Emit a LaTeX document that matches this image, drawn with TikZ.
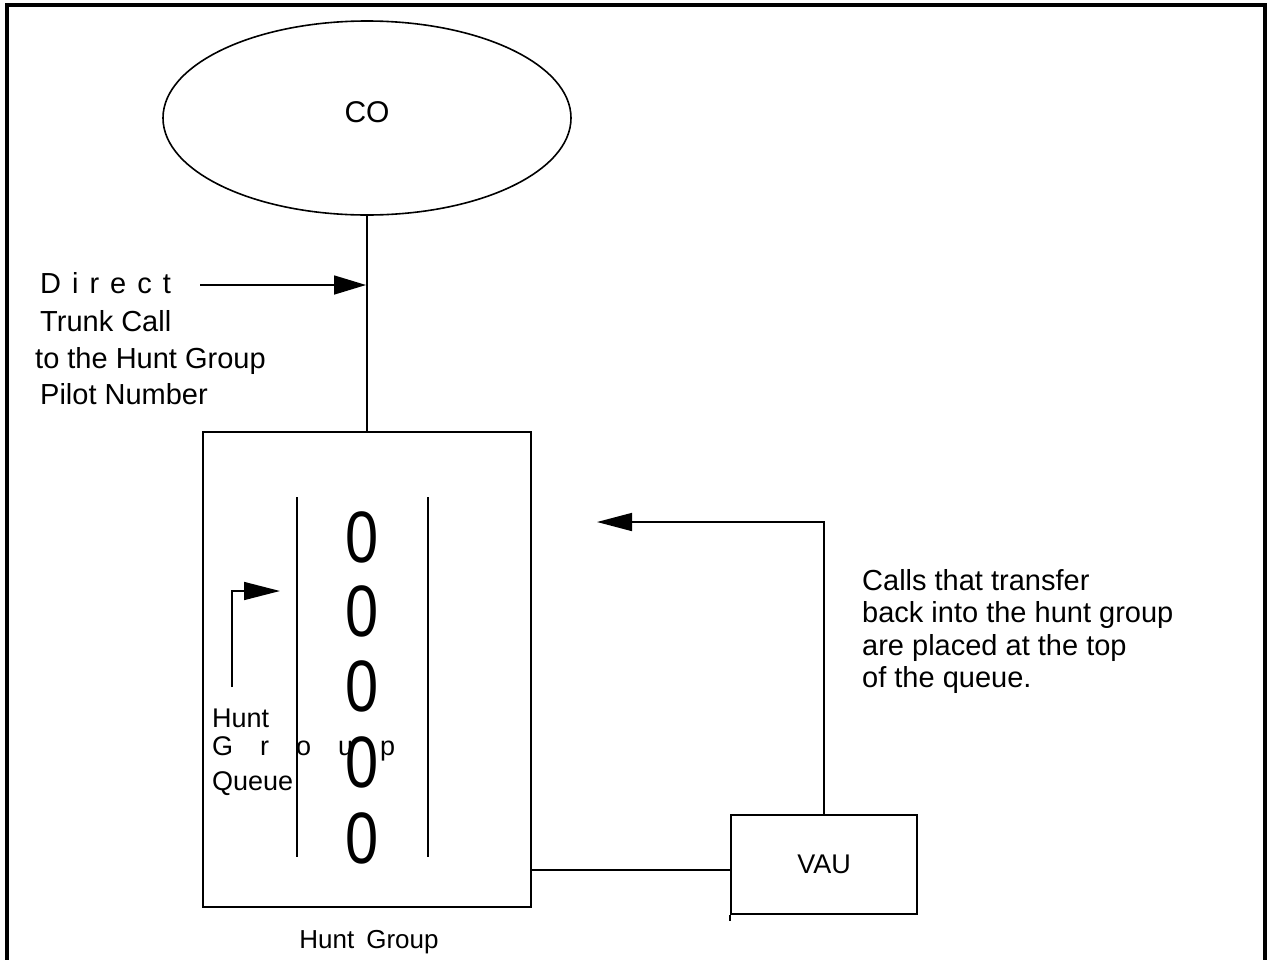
\documentclass[tikz,border=0pt]{standalone}
\usepackage{fontspec}
\setmainfont{Liberation Sans}
\usetikzlibrary{shapes.geometric,arrows.meta}
\begin{document}
\begin{tikzpicture}[x=1pt,y=-1pt,
  thinline/.style={line width=1.6pt},
  boxline/.style={line width=2.8pt},
  bigtip/.style={-{Triangle[length=32pt,width=19pt]}},
  txt/.style={inner sep=0pt,font=\fontsize{29}{35}\selectfont},
  small/.style={inner sep=0pt,font=\fontsize{26}{30}\selectfont},
  zero/.style={inner sep=0pt,xscale=0.85,yscale=1.04,font=\fontsize{70}{70}\selectfont}]
\useasboundingbox (0,0) rectangle (1271,959);
% frame
\draw[line width=4.5pt] (7,961) -- (7,5) -- (1265,5) -- (1265,961);
% CO
\node[draw,thinline,ellipse,minimum width=408pt,minimum height=194pt,inner sep=0pt,
  font=\fontsize{30}{30}\selectfont] (co) at (367,118) {};
\node[inner sep=0pt,font=\fontsize{30}{30}\selectfont] (cotxt) at (367,112) {CO};
% Hunt group box
\node[draw,boxline,minimum width=328pt,minimum height=475pt,inner sep=0pt] (hg) at (367,669.5) {};
\draw[thinline] (co.south) -- (co.south |- hg.north);
% Direct trunk call text
\node[txt,anchor=base west] (t1) at (40,293) {{\spaceskip=11pt D i r e c t}};
\node[txt,anchor=base west] (t2) at (40,331) {Trunk Call};
\node[txt,anchor=base west] (t3) at (35,368) {to the Hunt Group};
\node[txt,anchor=base west] (t4) at (40,404) {Pilot Number};
\coordinate (dstart) at (200,285);
\coordinate (dtip) at (366,285);
\draw[thinline,bigtip] (dstart) -- (dtip);
% queue
\coordinate (ql1) at (297,497);
\coordinate (ql2) at (297,857);
\coordinate (qr1) at (428,497);
\coordinate (qr2) at (428,857);
\draw[line width=2.5pt] (ql1) -- (ql2);
\draw[line width=2.5pt] (qr1) -- (qr2);
\node[zero] (z1) at (362,537) {0};
\node[zero] (z2) at (362,611) {0};
\node[zero] (z3) at (362,686) {0};
\node[zero] (z4) at (362,762) {0};
\node[zero] (z5) at (362,838) {0};
% queue label and arrow
\node[small,font=\fontsize{27}{30}\selectfont,anchor=base west] (q1) at (212,727) {Hunt};
\node[small,font=\fontsize{27}{30}\selectfont,anchor=base west] (q2) at (212,755) {{\spaceskip=27pt G r o u p}};
\node[small,font=\fontsize{27}{30}\selectfont,anchor=base west] (q3) at (212,790) {Queue};
\coordinate (qa1) at (232,687);
\coordinate (qa2) at (232,591);
\coordinate (qa3) at (280,591);
\draw[thinline,-{Triangle[length=36pt,width=18pt]}] (qa1) -- (qa2) -- (qa3);
% Hunt Group label
\node[small,font=\fontsize{26}{30}\selectfont,anchor=base] (hgl) at (369,948) {Hunt\hspace{12pt}Group};
% VAU
\node[draw,boxline,minimum width=186pt,minimum height=99pt,inner sep=0pt,
  font=\fontsize{27}{30}\selectfont] (vau) at (824,864.5) {VAU};
\draw[line width=2pt] (vau.south west) -- ++(0,6);
\draw[thinline] (hg.east |- 0,870) -- (vau.west |- 0,870);
\coordinate (rt) at (824,522);
\coordinate (rtip) at (597,522);
\draw[thinline,-{Triangle[length=35pt,width=18pt]}] (vau.north) -- (rt) -- (rtip);
% right text
\node[txt,anchor=base west] (r1) at (862,590) {Calls that transfer};
\node[txt,anchor=base west] (r2) at (862,622) {back into the hunt group};
\node[txt,anchor=base west] (r3) at (862,655) {are placed at the top};
\node[txt,anchor=base west] (r4) at (862,687) {of the queue.};
\end{tikzpicture}
\end{document}
